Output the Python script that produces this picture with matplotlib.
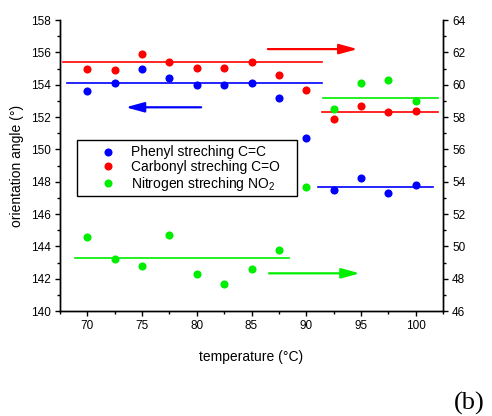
import matplotlib
matplotlib.use("Agg")
import matplotlib.pyplot as plt
from matplotlib.lines import Line2D
from matplotlib.patches import Rectangle

plt.rcParams['font.family'] = ['Liberation Sans', 'DejaVu Sans']
plt.rcParams['mathtext.fontset'] = 'custom'
plt.rcParams['mathtext.rm'] = 'Liberation Sans'
plt.rcParams['mathtext.it'] = 'Liberation Sans:italic'

# Temperatures (°C)
temperature = [70, 72.5, 75, 77.5, 80, 82.5, 85, 87.5, 90, 92.5, 95, 97.5, 100]

# Orientation angles, left axis (°)
phenyl_cc = [153.6, 154.1, 155.0, 154.4, 154.0, 154.0, 154.1, 153.2, 150.7,
             147.5, 148.2, 147.3, 147.8]
carbonyl_co = [155.0, 154.9, 155.9, 155.4, 155.05, 155.05, 155.4, 154.6, 153.7,
               151.9, 152.7, 152.3, 152.4]
# Orientation angles, right axis (°)
nitrogen_no2 = [50.6, 49.2, 48.8, 50.7, 48.3, 47.7, 48.6, 49.8, 53.7,
                58.5, 60.1, 60.3, 59.0]

# Mean levels below / above the transition: (x start, x end, level)
phenyl_levels = [(68.1, 91.4, 154.1), (91.1, 101.6, 147.7)]
carbonyl_levels = [(67.8, 91.4, 155.4), (91.4, 102.0, 152.3)]
nitrogen_levels = [(68.9, 88.4, 49.25), (91.5, 102.0, 59.2)]

labels = ['Phenyl streching C=C', 'Carbonyl streching C=O',
          'Nitrogen streching NO$_\\mathregular{2}$']

BLUE, RED, GREEN = '#0000ff', '#ff0000', '#00ee00'

fig = plt.figure(figsize=(4.92, 4.16), dpi=100)
ax = fig.add_axes([60 / 492, 1 - 311 / 416, 383 / 492, 291 / 416])
ax2 = ax.twinx()

ms = 34
ax.scatter(temperature, phenyl_cc, s=ms, color=BLUE, zorder=3, linewidths=0)
ax.scatter(temperature, carbonyl_co, s=ms, color=RED, zorder=3, linewidths=0)
ax2.scatter(temperature, nitrogen_no2, s=ms, color=GREEN, zorder=3, linewidths=0)

for x0, x1, lvl in phenyl_levels:
    ax.plot([x0, x1], [lvl, lvl], color=BLUE, lw=1.2)
for x0, x1, lvl in carbonyl_levels:
    ax.plot([x0, x1], [lvl, lvl], color=RED, lw=1.2)
for x0, x1, lvl in nitrogen_levels:
    ax2.plot([x0, x1], [lvl, lvl], color=GREEN, lw=1.2)


def arrow(axis, x_tail, x_head, y, color):
    axis.annotate('', xy=(x_head, y), xytext=(x_tail, y),
                  arrowprops=dict(arrowstyle='-|>,head_length=1.1,head_width=0.3',
                                  mutation_scale=10, color=color, lw=1.6,
                                  shrinkA=0, shrinkB=0))


arrow(ax, 80.4, 73.5, 152.6, BLUE)
arrow(ax, 86.5, 94.7, 156.2, RED)
arrow(ax2, 86.6, 94.9, 48.33, GREEN)

ax.set_xlim(67.5, 102.5)
ax.set_ylim(140, 158)
ax2.set_ylim(46, 64)
ax.set_xticks([70, 75, 80, 85, 90, 95, 100])
ax.set_xticks([67.5, 72.5, 77.5, 82.5, 87.5, 92.5, 97.5, 102.5], minor=True)
ax.set_yticks(range(140, 159, 2))
ax.set_yticks(range(141, 158, 2), minor=True)
ax2.set_yticks(range(46, 65, 2))
ax2.set_yticks(range(47, 64, 2), minor=True)

for a in (ax, ax2):
    a.spines['top'].set_visible(False)
    for s in a.spines.values():
        s.set_linewidth(1.0)
    a.tick_params(which='major', direction='out', length=3.6, width=1.0,
                  labelsize=8.5, pad=3)
    a.tick_params(which='minor', direction='out', length=2.2, width=1.0)

ax.set_xlabel('temperature (°C)', fontsize=10, labelpad=13)
ax.set_ylabel('orientation angle (°)', fontsize=10, labelpad=5)

# Legend box drawn as its own rectangle, entries placed inside it
ax2.add_patch(Rectangle((77 / 492, 1 - 196 / 416), 220 / 492, 56 / 416,
                        transform=fig.transFigure, facecolor='white',
                        edgecolor='black', lw=1.0, zorder=4, clip_on=False))

handles = [Line2D([], [], ls='', marker='o', ms=5.8, color=c, mec='none')
           for c in (BLUE, RED, GREEN)]
leg = ax2.legend(handles, labels, loc='upper left',
                 bbox_to_anchor=(96.5 / 492, 1 - 142 / 416),
                 bbox_transform=fig.transFigure, fontsize=10, frameon=False,
                 borderpad=0.25, labelspacing=0.05, handlelength=1.2,
                 handletextpad=1.0, borderaxespad=0)
leg.set_zorder(5)

fig.text(454 / 492, 1 - 410 / 416, '(b)', fontsize=19,
         family=['Liberation Serif', 'DejaVu Serif'], va='baseline', ha='left')

fig.savefig('out.png', dpi=100)
